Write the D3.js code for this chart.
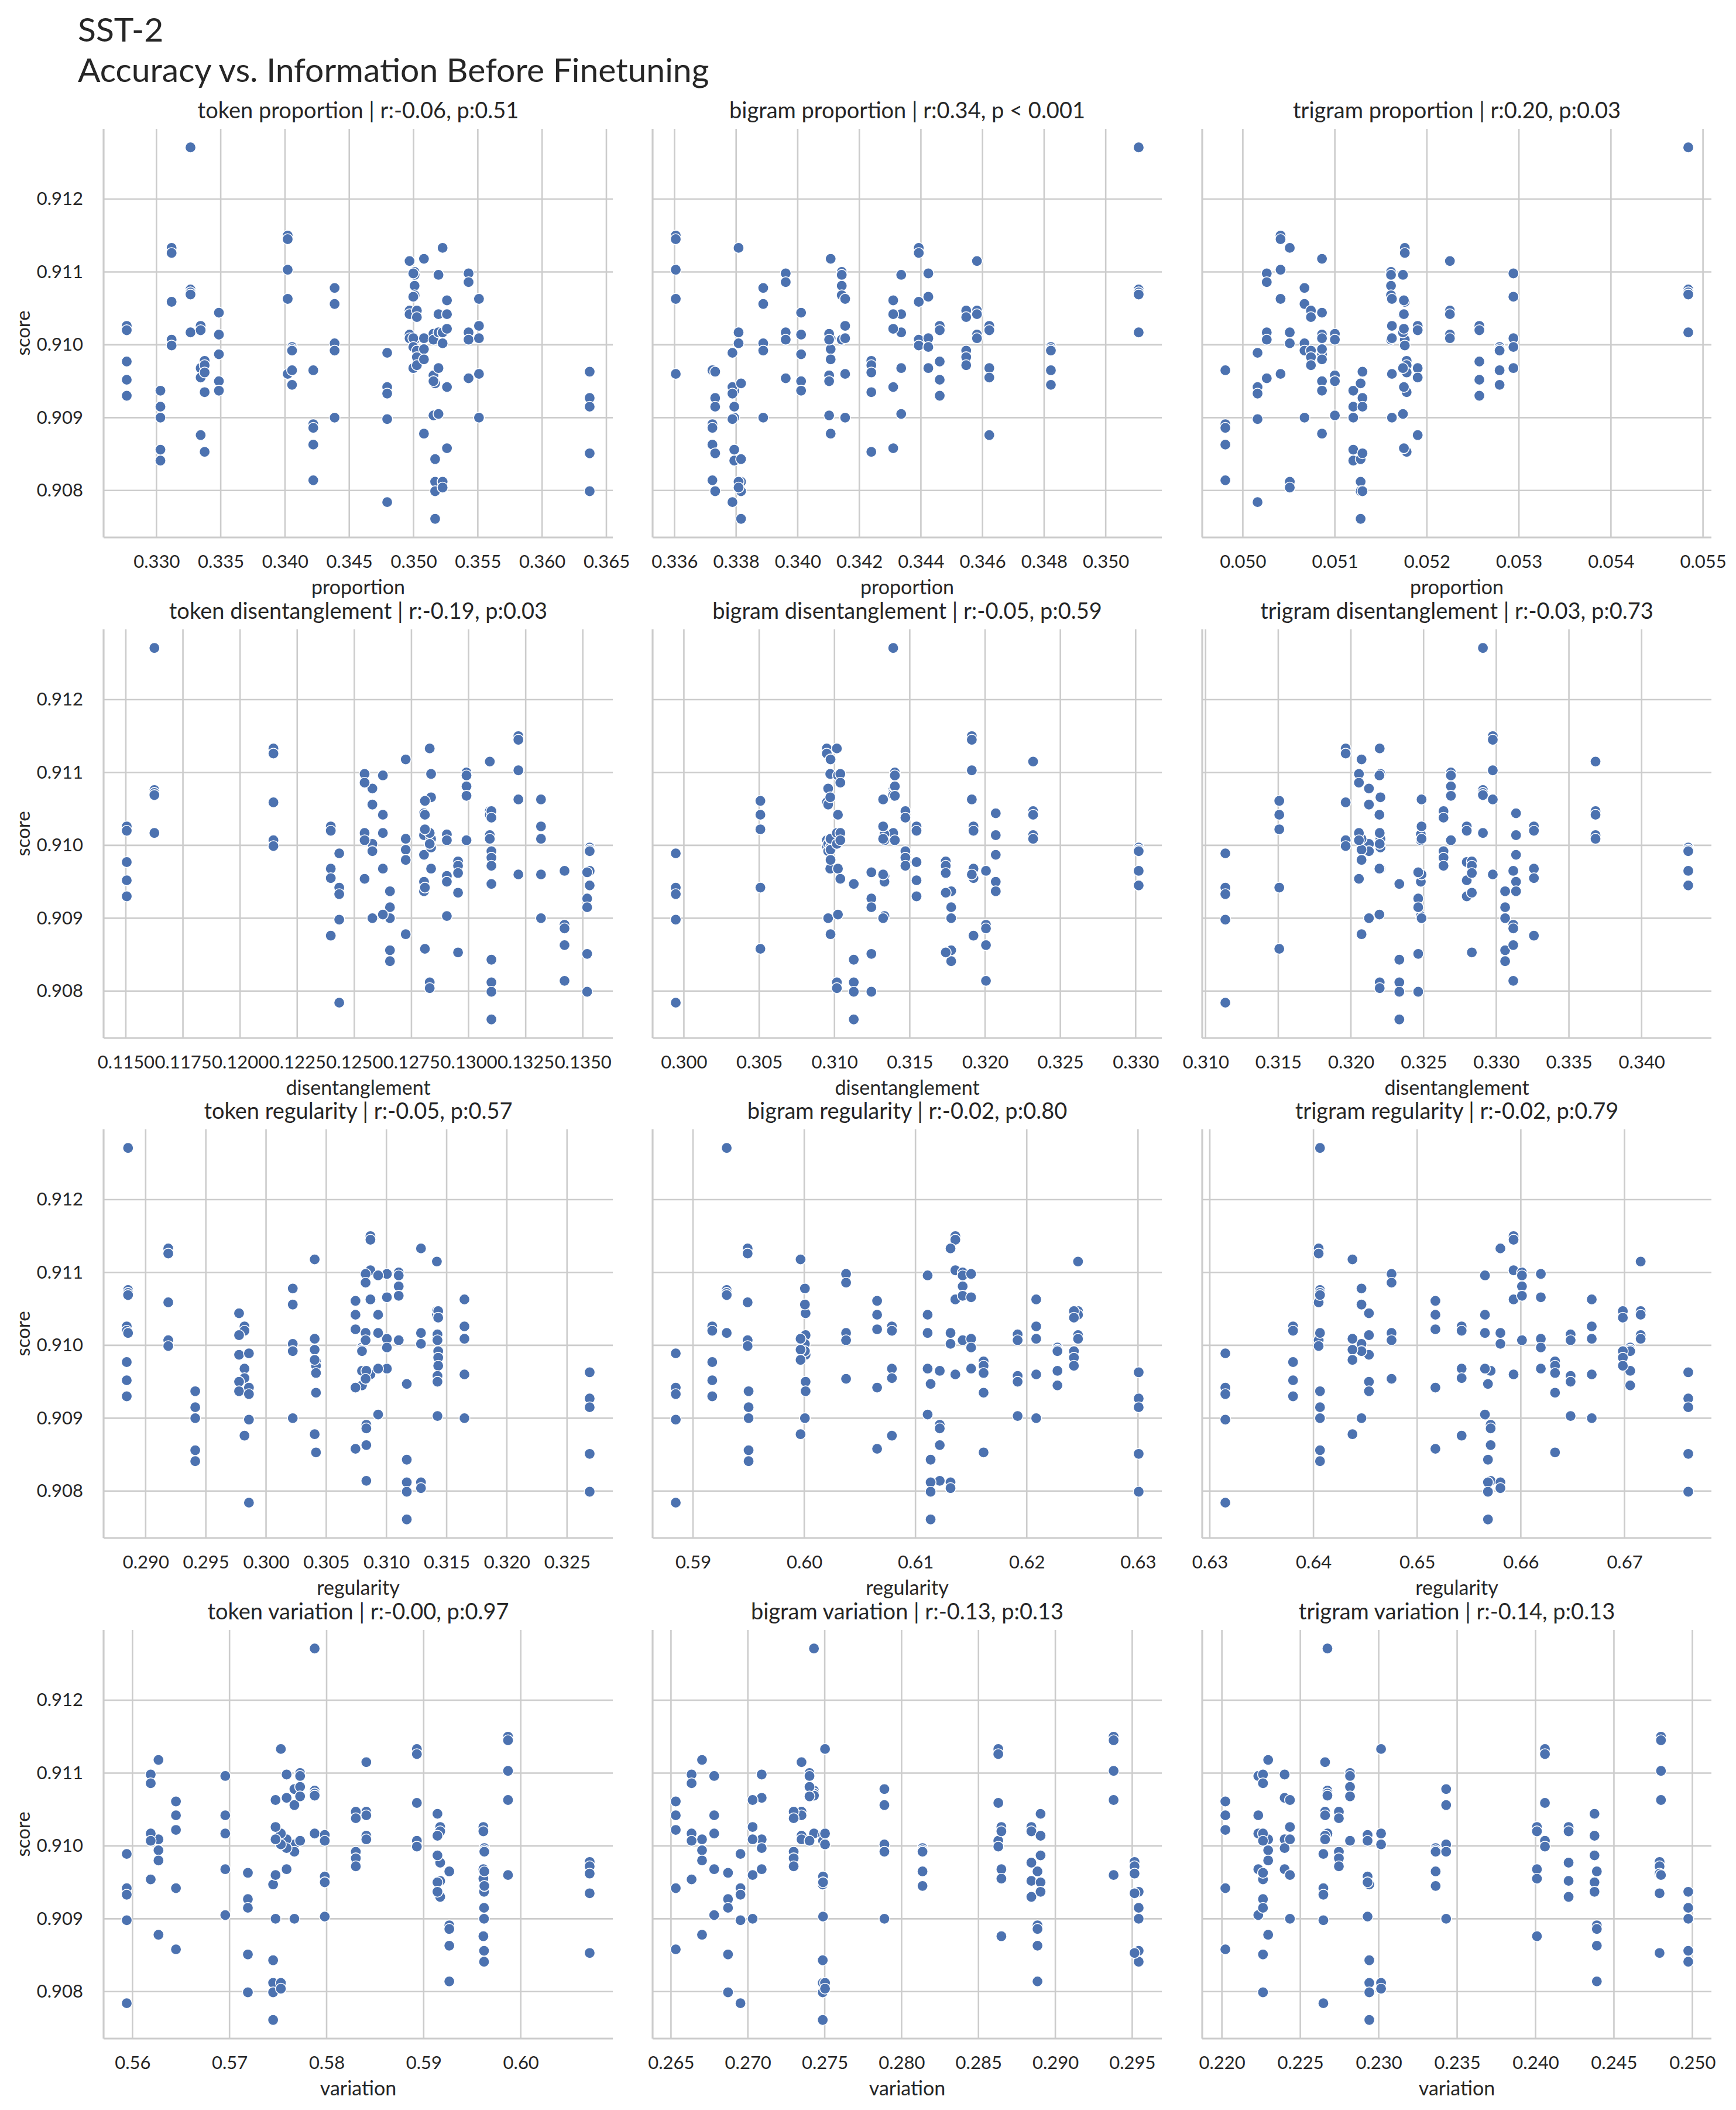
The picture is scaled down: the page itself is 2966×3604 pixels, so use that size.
<!DOCTYPE html>
<html>
<head>
<meta charset="utf-8">
<script src="https://cdn.jsdelivr.net/npm/d3@7"></script>
<style>
  body { margin: 0; background: #fff; }
  text { font-family: Futura, "Century Gothic", Lato, sans-serif; fill: #262626; }
</style>
</head>
<body>
<div id="chart"></div>
<script>
// fine-tuning scores, five seeds per pretrained model (25 models)
const scores = [
  [0.91026, 0.91020, 0.90977, 0.90952, 0.90930],
  [0.90937, 0.90915, 0.90900, 0.90856, 0.90841],
  [0.91133, 0.91126, 0.91059, 0.91007, 0.90999],
  [0.91271, 0.91076, 0.91072, 0.91069, 0.91017],
  [0.91026, 0.91020, 0.90968, 0.90955, 0.90876],
  [0.90978, 0.90972, 0.90962, 0.90935, 0.90853],
  [0.91044, 0.91014, 0.90987, 0.90950, 0.90937],
  [0.91150, 0.91145, 0.91103, 0.91063, 0.90960],
  [0.90997, 0.90994, 0.90992, 0.90965, 0.90945],
  [0.90965, 0.90891, 0.90886, 0.90863, 0.90814],
  [0.91078, 0.91056, 0.91002, 0.90992, 0.90900],
  [0.90989, 0.90942, 0.90933, 0.90898, 0.90784],
  [0.91115, 0.91047, 0.91042, 0.91014, 0.91009],
  [0.91100, 0.91096, 0.91081, 0.91068, 0.91007],
  [0.91098, 0.91066, 0.91009, 0.90997, 0.90968],
  [0.91047, 0.91038, 0.90992, 0.90983, 0.90972],
  [0.91118, 0.91009, 0.90994, 0.90980, 0.90878],
  [0.90947, 0.90843, 0.90812, 0.90799, 0.90761],
  [0.91015, 0.91007, 0.90958, 0.90950, 0.90903],
  [0.91096, 0.91042, 0.91017, 0.90968, 0.90905],
  [0.91133, 0.91017, 0.91002, 0.90812, 0.90804],
  [0.91061, 0.91042, 0.91022, 0.90942, 0.90858],
  [0.91098, 0.91086, 0.91017, 0.91007, 0.90954],
  [0.91063, 0.91026, 0.91009, 0.90960, 0.90900],
  [0.90963, 0.90927, 0.90915, 0.90851, 0.90799]
];

// information measures of each model before fine-tuning (same model order)
const tokenProportion = [0.32769, 0.33031, 0.33118, 0.33265, 0.33344, 0.33375, 0.33486, 0.34021, 0.34055, 0.34220, 0.34386, 0.34795, 0.34969, 0.35008, 0.34998, 0.35026, 0.35081, 0.35168, 0.35155, 0.35194, 0.35226, 0.35260, 0.35428, 0.35509, 0.36370];
const bigramProportion = [0.34461, 0.33794, 0.34393, 0.35107, 0.34622, 0.34239, 0.34011, 0.33604, 0.34822, 0.33723, 0.33888, 0.33788, 0.34582, 0.34143, 0.34424, 0.34547, 0.34107, 0.33816, 0.34102, 0.34336, 0.33808, 0.34310, 0.33961, 0.34154, 0.33732];
const trigramProportion = [0.05257, 0.05120, 0.05176, 0.05484, 0.05190, 0.05178, 0.05086, 0.05041, 0.05279, 0.04981, 0.05067, 0.05016, 0.05225, 0.05161, 0.05294, 0.05074, 0.05086, 0.05128, 0.05100, 0.05174, 0.05051, 0.05175, 0.05026, 0.05162, 0.05130];
const tokenDisentanglement = [0.11504, 0.12656, 0.12146, 0.11625, 0.12397, 0.12954, 0.12805, 0.13218, 0.13530, 0.13420, 0.12579, 0.12434, 0.13093, 0.12991, 0.12836, 0.13100, 0.12725, 0.13100, 0.12905, 0.12625, 0.12830, 0.12809, 0.12545, 0.13317, 0.13519];
const bigramDisentanglement = [0.31545, 0.31775, 0.30949, 0.31390, 0.31923, 0.31739, 0.32071, 0.31912, 0.33020, 0.32006, 0.30958, 0.29946, 0.32319, 0.31401, 0.30972, 0.31471, 0.30974, 0.31128, 0.31332, 0.31023, 0.31016, 0.30508, 0.31039, 0.31323, 0.31245];
const trigramDisentanglement = [0.32797, 0.33061, 0.31964, 0.32908, 0.33259, 0.32832, 0.33136, 0.32976, 0.34321, 0.33117, 0.32124, 0.31136, 0.33683, 0.32688, 0.32203, 0.32637, 0.32073, 0.32333, 0.32481, 0.32196, 0.32198, 0.31507, 0.32055, 0.32486, 0.32463];
const tokenRegularity = [0.28843, 0.29412, 0.29188, 0.28854, 0.29821, 0.30415, 0.29776, 0.30867, 0.30797, 0.30833, 0.30222, 0.29858, 0.31419, 0.31102, 0.31004, 0.31430, 0.30404, 0.31169, 0.31424, 0.30931, 0.31287, 0.30743, 0.30827, 0.31648, 0.32688];
const bigramRegularity = [0.59173, 0.59500, 0.59491, 0.59303, 0.60788, 0.61612, 0.60012, 0.61358, 0.62276, 0.61218, 0.60006, 0.58845, 0.62461, 0.61424, 0.61500, 0.62424, 0.59967, 0.61136, 0.61918, 0.61109, 0.61315, 0.60655, 0.60376, 0.62085, 0.63006];
const trigramRegularity = [0.63803, 0.64063, 0.64050, 0.64063, 0.65429, 0.66330, 0.64535, 0.65930, 0.67055, 0.65709, 0.64463, 0.63150, 0.67156, 0.66011, 0.66193, 0.66984, 0.64376, 0.65683, 0.66480, 0.65654, 0.65803, 0.65176, 0.64753, 0.66684, 0.67615];
const tokenVariation = [0.59170, 0.59622, 0.58930, 0.57877, 0.59615, 0.60710, 0.59142, 0.59869, 0.59625, 0.59264, 0.57668, 0.55941, 0.58409, 0.57727, 0.57588, 0.58301, 0.56268, 0.57449, 0.57981, 0.56956, 0.57529, 0.56448, 0.56188, 0.57474, 0.57189];
const bigramVariation = [0.28844, 0.29542, 0.28629, 0.27430, 0.28649, 0.29515, 0.28904, 0.29379, 0.28136, 0.28884, 0.27888, 0.26952, 0.27349, 0.27401, 0.27090, 0.27298, 0.26702, 0.27487, 0.27489, 0.26781, 0.27502, 0.26531, 0.26634, 0.27031, 0.26871];
const trigramVariation = [0.24211, 0.24974, 0.24060, 0.22673, 0.24009, 0.24791, 0.24376, 0.24800, 0.23363, 0.24391, 0.23430, 0.22647, 0.22658, 0.22817, 0.22400, 0.22746, 0.22295, 0.22940, 0.22929, 0.22232, 0.23015, 0.22022, 0.22262, 0.22434, 0.22262];

const panelTitles = [
  'token proportion | r:-0.06, p:0.51',
  'bigram proportion | r:0.34, p < 0.001',
  'trigram proportion | r:0.20, p:0.03',
  'token disentanglement | r:-0.19, p:0.03',
  'bigram disentanglement | r:-0.05, p:0.59',
  'trigram disentanglement | r:-0.03, p:0.73',
  'token regularity | r:-0.05, p:0.57',
  'bigram regularity | r:-0.02, p:0.80',
  'trigram regularity | r:-0.02, p:0.79',
  'token variation | r:-0.00, p:0.97',
  'bigram variation | r:-0.13, p:0.13',
  'trigram variation | r:-0.14, p:0.13'
];
const xLabels = ['proportion', 'disentanglement', 'regularity', 'variation'];

const xTicks = [
  [0.330, 0.335, 0.340, 0.345, 0.350, 0.355, 0.360, 0.365],
  [0.336, 0.338, 0.340, 0.342, 0.344, 0.346, 0.348, 0.350],
  [0.050, 0.051, 0.052, 0.053, 0.054, 0.055],
  [0.1150, 0.1175, 0.1200, 0.1225, 0.1250, 0.1275, 0.1300, 0.1325, 0.1350],
  [0.300, 0.305, 0.310, 0.315, 0.320, 0.325, 0.330],
  [0.310, 0.315, 0.320, 0.325, 0.330, 0.335, 0.340],
  [0.290, 0.295, 0.300, 0.305, 0.310, 0.315, 0.320, 0.325],
  [0.59, 0.60, 0.61, 0.62, 0.63],
  [0.63, 0.64, 0.65, 0.66, 0.67],
  [0.56, 0.57, 0.58, 0.59, 0.60],
  [0.265, 0.270, 0.275, 0.280, 0.285, 0.290, 0.295],
  [0.220, 0.225, 0.230, 0.235, 0.240, 0.245, 0.250]
];
const xTickDecimals = [3, 3, 3, 4, 3, 3, 3, 2, 2, 2, 3, 3];
const scoreTicks = [0.908, 0.909, 0.910, 0.911, 0.912];

const measures = [
  tokenProportion, bigramProportion, trigramProportion,
  tokenDisentanglement, bigramDisentanglement, trigramDisentanglement,
  tokenRegularity, bigramRegularity, trigramRegularity,
  tokenVariation, bigramVariation, trigramVariation
];

// layout
const width = 2966, height = 3604;
const colX = [177, 1115, 2054];
const rowY = [220, 1075, 1929, 2784];
const W = 870, H = 698;
const blue = '#4c72b0', gridColor = '#cccccc';

// matplotlib-like 5% margins
const padded = (ext) => {
  const m = (ext[1] - ext[0]) * 0.05;
  return [ext[0] - m, ext[1] + m];
};

const svg = d3.select('#chart')
  .append('svg')
  .attr('width', width)
  .attr('height', height);

svg.append('rect').attr('width', width).attr('height', height).attr('fill', '#fff');

svg.append('text')
  .attr('x', 133).attr('y', 71)
  .style('font-size', '57px')
  .text('SST-2');
svg.append('text')
  .attr('x', 133).attr('y', 140)
  .style('font-size', '57px')
  .text('Accuracy vs. Information Before Finetuning');

const y = d3.scaleLinear()
  .domain(padded(d3.extent(scores.flat())))
  .range([H, 0]);

measures.forEach((xs, i) => {
  const row = Math.floor(i / 3), col = i % 3;
  const g = svg.append('g')
    .attr('transform', 'translate(' + colX[col] + ',' + rowY[row] + ')');

  const x = d3.scaleLinear()
    .domain(padded(d3.extent(xs)))
    .range([0, W]);
  const ticks = xTicks[i].filter((t) => t >= x.domain()[0] && t <= x.domain()[1]);

  // grid
  g.append('g')
    .selectAll('line')
    .data(ticks)
    .enter()
    .append('line')
    .attr('x1', (d) => x(d)).attr('x2', (d) => x(d))
    .attr('y1', 0).attr('y2', H)
    .style('stroke', gridColor).style('stroke-width', 2.6);
  g.append('g')
    .selectAll('line')
    .data(scoreTicks)
    .enter()
    .append('line')
    .attr('x1', 0).attr('x2', W)
    .attr('y1', (d) => y(d)).attr('y2', (d) => y(d))
    .style('stroke', gridColor).style('stroke-width', 2.6);

  // spines (left and bottom only)
  g.append('line')
    .attr('x1', 0).attr('x2', 0).attr('y1', 0).attr('y2', H)
    .style('stroke', gridColor).style('stroke-width', 3.2);
  g.append('line')
    .attr('x1', 0).attr('x2', W).attr('y1', H).attr('y2', H)
    .style('stroke', gridColor).style('stroke-width', 3.2);

  // points: one per model and seed
  const pts = [];
  xs.forEach((v, m) => scores[m].forEach((s) => pts.push({ x: v, y: s })));
  g.append('g')
    .selectAll('circle')
    .data(pts)
    .enter()
    .append('circle')
    .attr('cx', (d) => x(d.x))
    .attr('cy', (d) => y(d.y))
    .attr('r', 9.2)
    .style('fill', blue)
    .style('stroke', '#fff')
    .style('stroke-width', 1.6);

  // x axis labels
  const xAxis = g.append('g')
    .attr('transform', 'translate(0,' + H + ')')
    .call(d3.axisBottom(x)
      .tickValues(ticks)
      .tickSize(0)
      .tickPadding(30)
      .tickFormat(d3.format('.' + xTickDecimals[i] + 'f')));
  xAxis.select('.domain').remove();
  xAxis.selectAll('text')
    .style('font-size', '31px')
    .style('font-family', null)
    .attr('fill', null);

  if (col === 0) {
    const yAxis = g.append('g')
      .call(d3.axisLeft(y)
        .tickValues(scoreTicks)
        .tickSize(0)
        .tickPadding(35)
        .tickFormat(d3.format('.3f')));
    yAxis.select('.domain').remove();
    yAxis.selectAll('text')
      .style('font-size', '31px')
      .style('font-family', null)
      .attr('fill', null);

    g.append('text')
      .attr('transform', 'translate(-126,' + H / 2 + ') rotate(-90)')
      .attr('text-anchor', 'middle')
      .style('font-size', '33px')
      .text('score');
  }

  g.append('text')
    .attr('x', W / 2).attr('y', -18)
    .attr('text-anchor', 'middle')
    .style('font-size', '38px')
    .text(panelTitles[i]);

  g.append('text')
    .attr('x', W / 2).attr('y', H + 97)
    .attr('text-anchor', 'middle')
    .style('font-size', '34px')
    .text(xLabels[row]);
});
</script>
</body>
</html>
